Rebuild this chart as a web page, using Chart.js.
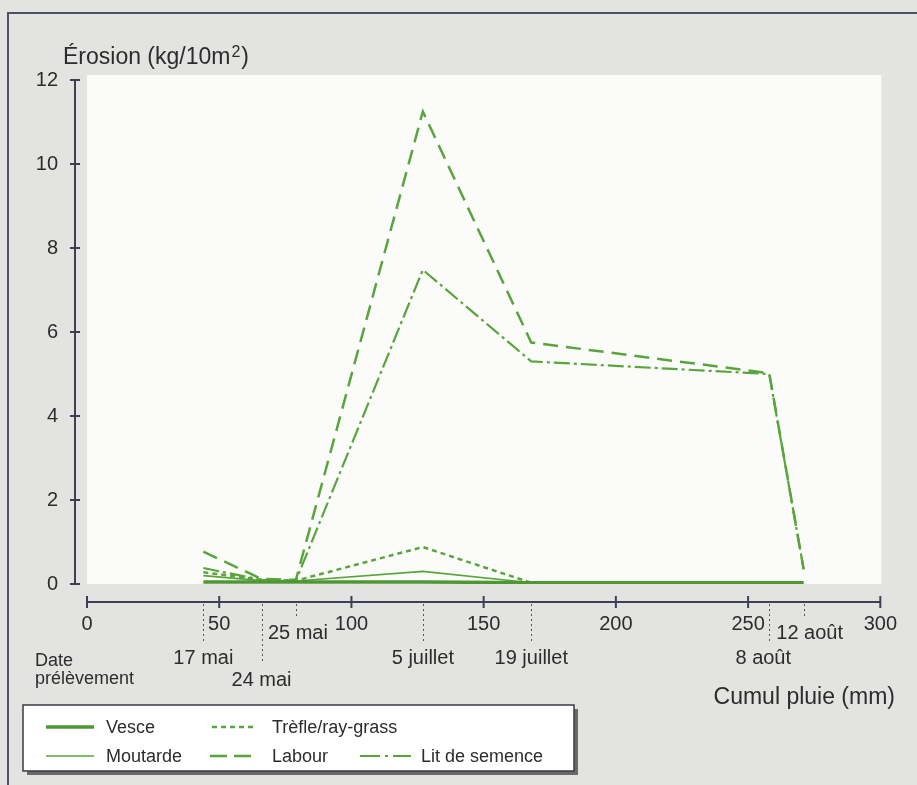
<!DOCTYPE html>
<html><head><meta charset="utf-8">
<script src="https://cdn.jsdelivr.net/npm/chart.js@4/dist/chart.umd.min.js"></script>
<style>html,body{margin:0;padding:0;background:#e3e3e1}#wrap{width:917px;height:785px;position:relative}</style>
</head><body><div id="wrap"><canvas id="c" width="917" height="785"></canvas></div>
<script>
// ---- data ----
const rainfallMm = [44, 66, 79, 127, 168, 258, 271];
const sampleDates = ['17 mai', '24 mai', '25 mai', '5 juillet', '19 juillet', '8 août', '12 août'];
const vesce      = [0.05, 0.05, 0.05, 0.05, 0.03, 0.03, 0.03];
const moutarde   = [0.20, 0.08, 0.07, 0.30, 0.03, 0.03, 0.03];
const trefle     = [0.28, 0.10, 0.08, 0.88, 0.03, 0.03, 0.03];
const labour     = [0.77, 0.12, 0.10, 11.25, 5.75, 5.02, 0.35];
const litSemence = [0.38, 0.10, 0.08, 7.48, 5.30, 5.00, 0.35];
const seriesNames = ['Vesce', 'Moutarde', 'Trèfle/ray-grass', 'Labour', 'Lit de semence'];
const yTitle = 'Érosion (kg/10m';
const xTitle = 'Cumul pluie (mm)';
const dateCaption = ['Date', 'prélèvement'];

// ---- layout (not data) ----
const dateRow = [2, 3, 1, 2, 2, 2, 1];
const dateDx = [0, 0, 2, 0, 0, -6, 6];
const GREEN = 'rgb(90,164,62)';
const GREEN_D = 'rgb(78,152,52)';
const AXIS = '#3d4054';
const TXT = '#2c2c2c';
const FONT = '"Liberation Sans", Arial, Helvetica, sans-serif';

const pts = arr => arr.map((v, i) => ({x: rainfallMm[i], y: v}));
const ds = (label, arr, color, width, dash) => ({
  label, data: pts(arr), borderColor: color, borderWidth: width, borderDash: dash,
  pointRadius: 0, fill: false, tension: 0
});

const datasets = [
  ds(seriesNames[0], vesce, GREEN_D, 3.5, []),
  ds(seriesNames[1], moutarde, GREEN, 1.6, []),
  ds(seriesNames[2], trefle, GREEN, 2.5, [5, 4]),
  ds(seriesNames[3], labour, GREEN, 2.5, [15, 8]),
  ds(seriesNames[4], litSemence, GREEN, 2.2, [16, 4, 3, 4])
];

const decor = {
  id: 'decor',
  beforeDraw(chart) {
    const {ctx, chartArea: ca} = chart;
    ctx.save();
    ctx.fillStyle = '#e3e3e1';
    ctx.fillRect(0, 0, chart.width, chart.height);
    ctx.strokeStyle = '#4b5163';
    ctx.lineWidth = 2;
    ctx.beginPath();
    ctx.moveTo(8, 785); ctx.lineTo(8, 13); ctx.lineTo(917, 13);
    ctx.stroke();
    ctx.fillStyle = '#fbfbfa';
    ctx.fillRect(ca.left, ca.top - 5, ca.right - ca.left + 1, ca.bottom - ca.top + 5);
    ctx.restore();
  },
  afterDraw(chart) {
    const {ctx, chartArea: ca} = chart;
    const xs = chart.scales.x, ys = chart.scales.y;
    ctx.save();
    const ax = ca.left - 12;
    ctx.strokeStyle = AXIS; ctx.lineWidth = 2;
    ctx.beginPath();
    ctx.moveTo(ax, ys.getPixelForValue(ys.max)); ctx.lineTo(ax, ys.getPixelForValue(ys.min));
    ys.ticks.forEach(t => {
      const py = ys.getPixelForValue(t.value);
      ctx.moveTo(ax - 5, py); ctx.lineTo(ax + 5, py);
    });
    ctx.stroke();
    const ay = ca.bottom + 18;
    ctx.beginPath();
    ctx.moveTo(xs.getPixelForValue(xs.min), ay); ctx.lineTo(xs.getPixelForValue(xs.max), ay);
    xs.ticks.forEach(t => {
      const px = xs.getPixelForValue(t.value);
      ctx.moveTo(px, ay - 6); ctx.lineTo(px, ay + 6);
    });
    ctx.stroke();
    const ends = {1: 616, 2: 641, 3: 664};
    const bases = {1: 639, 2: 664, 3: 686};
    ctx.lineWidth = 1; ctx.strokeStyle = '#555';
    ctx.setLineDash([2, 3]);
    rainfallMm.forEach((mm, i) => {
      const px = Math.round(xs.getPixelForValue(mm)) + 0.5;
      ctx.beginPath(); ctx.moveTo(px, ay + 2); ctx.lineTo(px, ends[dateRow[i]]); ctx.stroke();
    });
    ctx.setLineDash([]);
    ctx.fillStyle = TXT;
    ctx.font = '20px ' + FONT;
    ctx.textAlign = 'center'; ctx.textBaseline = 'alphabetic';
    sampleDates.forEach((d, i) => {
      ctx.fillText(d, xs.getPixelForValue(rainfallMm[i]) + dateDx[i], bases[dateRow[i]]);
    });
    ctx.textAlign = 'left';
    ctx.font = '18px ' + FONT;
    ctx.fillText(dateCaption[0], 35, 666);
    ctx.fillText(dateCaption[1], 35, 684);
    ctx.font = '23px ' + FONT;
    ctx.fillText(yTitle, 63, 64);
    const w = ctx.measureText(yTitle).width;
    ctx.font = '16px ' + FONT;
    ctx.fillText('2', 63 + w + 1, 57);
    const w2 = ctx.measureText('2').width;
    ctx.font = '23px ' + FONT;
    ctx.fillText(')', 63 + w + w2 + 2, 64);
    ctx.textAlign = 'right';
    ctx.fillText(xTitle, 895, 704);
    const L = 23, T = 705, R = 574, B = 771;
    ctx.fillStyle = '#6a6a6a';
    ctx.fillRect(L + 4, T + 4, R - L, B - T);
    ctx.fillStyle = '#ffffff';
    ctx.fillRect(L, T, R - L, B - T);
    ctx.strokeStyle = '#3a3a44'; ctx.lineWidth = 1.5;
    ctx.strokeRect(L, T, R - L, B - T);
    const slots = [
      {l: 46, r: 94, tx: 106, y: 727},
      {l: 46, r: 94, tx: 106, y: 756},
      {l: 212, r: 253, tx: 272, y: 727},
      {l: 210, r: 251, tx: 272, y: 756},
      {l: 360, r: 411, tx: 421, y: 756}
    ];
    ctx.font = '18px ' + FONT; ctx.textAlign = 'left'; ctx.textBaseline = 'middle';
    chart.data.datasets.forEach((d, i) => {
      const s = slots[i];
      ctx.strokeStyle = d.borderColor; ctx.lineWidth = d.borderWidth;
      ctx.setLineDash(i === 3 ? [17, 7] : (i === 4 ? [20, 5, 3, 5] : d.borderDash));
      ctx.beginPath(); ctx.moveTo(s.l, s.y); ctx.lineTo(s.r, s.y); ctx.stroke();
      ctx.setLineDash([]);
      ctx.fillStyle = TXT;
      ctx.fillText(d.label, s.tx, s.y + 1);
    });
    ctx.restore();
  }
};

new Chart(document.getElementById('c'), {
  type: 'line',
  data: {datasets},
  plugins: [decor],
  options: {
    responsive: false, animation: false, devicePixelRatio: 1,
    layout: {padding: {left: 0, right: 33, top: 80, bottom: 0}},
    plugins: {legend: {display: false}, tooltip: {enabled: false}},
    scales: {
      x: {
        type: 'linear', min: 0, max: 300,
        grid: {display: false}, border: {display: false},
        ticks: {stepSize: 50, padding: 20, color: TXT, font: {family: FONT, size: 20}, maxRotation: 0, autoSkip: false},
        afterFit: s => { s.height = 201; }
      },
      y: {
        min: 0, max: 12,
        grid: {display: false}, border: {display: false},
        ticks: {stepSize: 2, padding: 21, color: TXT, font: {family: FONT, size: 20}},
        afterFit: s => { s.width = 87; }
      }
    }
  }
});
</script></body></html>
